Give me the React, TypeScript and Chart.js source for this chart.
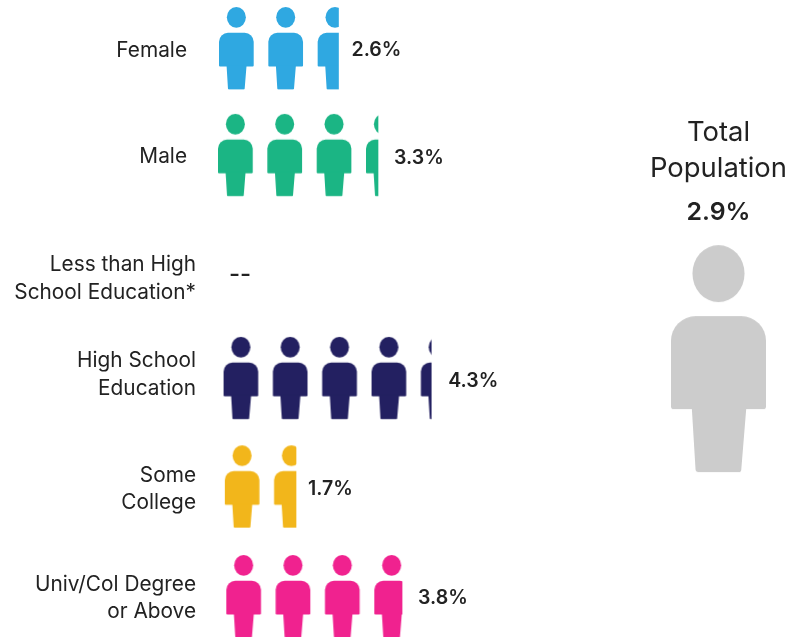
import React, { useEffect, useRef } from "react";
import { Chart, registerables, LinearScale } from "chart.js";

const categories: string[][] = [
  ["Female"],
  ["Male"],
  ["Less than High", "School Education*"],
  ["High School", "Education"],
  ["Some", "College"],
  ["Univ/Col Degree", "or Above"],
];
const rateValues: (number | null)[] = [2.6, 3.3, null, 4.3, 1.7, 3.8];
const rateColors = ["#2FA8E1", "#1BB584", "#CCCCCC", "#232061", "#F2B61B", "#F0228F"];
const totalValue = 2.9;
const totalTitle = ["Total", "Population"];
const missingText = "--";

// style / layout tweaks per row (pixels)
const rowShiftX = [0, -1, 5, 4.5, 5.7, 7.3];
const rowShiftY = [-2, -4.4, 0, 0.2, -0.5, 0];
const endShiftX = [0, 1.6, 0, 0, -2.3, 0];
const valueGap = [13, 16, 16, 17, 12, 16];
const valueShiftY = [2, 3, 0, 3, 3, 2];
const labelInset = [9, 9, 0, 0, 0, 0];
const labelShiftY = [0, -3, 10, -3, 2, 2];

const PITCH = 148 / 3;
const ICON_W = 34.7;
const ICON_H = 82.5;
const TEXT = "#222222";
const FONT = "Inter";

class PictogramScale extends LinearScale {
  static id = "pictogram";
  static defaults = LinearScale.defaults;
  getPixelForValue(v: number) {
    const whole = Math.floor(v);
    return this.left + (whole + ((v - whole) * ICON_W) / PITCH) * PITCH;
  }
}
Chart.register(...registerables, PictogramScale as any);

function person(ctx: CanvasRenderingContext2D, x: number, y: number, w: number, h: number, color: string) {
  ctx.fillStyle = color;
  ctx.beginPath();
  ctx.ellipse(x + 0.5 * w, y + 0.1256 * h, 0.274 * w, 0.1256 * h, 0, 0, Math.PI * 2);
  ctx.fill();
  ctx.beginPath();
  ctx.roundRect(x, y + 0.313 * h, w, 0.4095 * h, [0.26 * w, 0.26 * w, 0.03 * w, 0.03 * w]);
  ctx.fill();
  const r = 0.03 * w;
  ctx.beginPath();
  ctx.moveTo(x + 0.218 * w, y + 0.71 * h);
  ctx.lineTo(x + 0.794 * w, y + 0.71 * h);
  ctx.lineTo(x + 0.74 * w, y + h - r);
  ctx.arcTo(x + 0.74 * w, y + h, x + 0.5 * w, y + h, r);
  ctx.arcTo(x + 0.26 * w, y + h, x + 0.218 * w, y + 0.71 * h, r);
  ctx.closePath();
  ctx.fill();
}

function makeTile(color: string) {
  const c = document.createElement("canvas");
  c.width = 148;
  c.height = 100;
  const g = c.getContext("2d")!;
  for (let i = 0; i < 3; i++) person(g, i * PITCH, 0, ICON_W, ICON_H, color);
  return c;
}

export default function App() {
  const ref = useRef<HTMLCanvasElement>(null);
  useEffect(() => {
    document.body.style.margin = "0";
    const canvas = ref.current!;
    const ctx = canvas.getContext("2d")!;
    const patterns = rateColors.map((c) => ctx.createPattern(makeTile(c), "repeat")!);
    const big = document.createElement("canvas");
    big.width = 97;
    big.height = 229;
    person(big.getContext("2d")!, 1, 1, 95, 227, "#CCCCCC");

    const pictoPlugin = {
      id: "picto",
      afterDatasetUpdate(chart: any, args: any) {
        if (args.index !== 0) return;
        args.meta.data.forEach((el: any, i: number) => {
          el.x += rowShiftX[i] + endShiftX[i];
          el.base += rowShiftX[i];
          el.y = chart.scales.y.getPixelForTick(i) + rowShiftY[i];
          if (rateValues[i] !== null) {
            patterns[i].setTransform(new DOMMatrix().translate(el.base, el.y - ICON_H / 2));
          }
        });
      },
      beforeDraw(chart: any) {
        const s = chart.scales.y;
        s.getLabelItems(chart.chartArea).forEach((item: any, i: number) => {
          const t = item.options.translation;
          item.options.translation = [t[0] - labelInset[i], t[1] + labelShiftY[i]];
        });
      },
      afterDatasetsDraw(chart: any) {
        const g = chart.ctx;
        const meta = chart.getDatasetMeta(0);
        const xs = chart.scales.x;
        g.save();
        g.fillStyle = TEXT;
        g.textBaseline = "middle";
        g.textAlign = "left";
        meta.data.forEach((el: any, i: number) => {
          const v = rateValues[i];
          if (v === null) {
            g.font = `500 24px ${FONT}`;
            g.fillText(missingText, xs.getPixelForValue(0) + rowShiftX[i] + 5, chart.scales.y.getPixelForTick(i) + rowShiftY[i] + 6);
          } else {
            g.font = `600 19.5px ${FONT}`;
            g.fillText(`${v.toFixed(1)}%`, el.x + valueGap[i], el.y + valueShiftY[i]);
          }
        });
        const pt = chart.getDatasetMeta(1).data[0];
        g.textAlign = "center";
        g.font = `400 27.4px ${FONT}`;
        g.fillText(totalTitle[0], pt.x, 133);
        g.fillText(totalTitle[1], pt.x, 169);
        g.font = `600 24.8px ${FONT}`;
        g.fillText(`${totalValue.toFixed(1)}%`, pt.x, 213);
        g.restore();
      },
    };

    const chart = new Chart(canvas, {
      type: "bar",
      data: {
        labels: categories as any,
        datasets: [
          {
            type: "bar",
            indexAxis: "y",
            xAxisID: "x",
            yAxisID: "y",
            data: rateValues as any,
            barThickness: ICON_H,
            clip: false,
            borderWidth: 0,
            backgroundColor: (c: any) => patterns[c.dataIndex],
          } as any,
          {
            type: "scatter",
            xAxisID: "xTotal",
            yAxisID: "yTotal",
            data: [{ x: 0, y: totalValue }],
            pointStyle: big,
            pointRadius: 10,
            clip: false,
          } as any,
        ],
      },
      plugins: [pictoPlugin as any],
      options: {
        animation: false,
        responsive: false,
        events: [],
        layout: { autoPadding: false, padding: { top: 47.7, bottom: 40.8, left: 0, right: 0 } },
        plugins: { legend: { display: false }, tooltip: { enabled: false }, title: { display: false } },
        scales: {
          x: { type: "pictogram", axis: "x", display: false, offset: false, min: 0, max: 12 } as any,
          y: {
            type: "category",
            axis: "y",
            offset: false,
            position: "left",
            afterFit: (s: any) => {
              s.width = 219;
            },
            border: { display: false },
            grid: { display: false, drawTicks: false },
            ticks: {
              autoSkip: false,
              padding: 23,
              color: TEXT,
              font: { family: FONT, size: 20.8, weight: "400", lineHeight: 1.31 },
            },
          } as any,
          xTotal: { type: "linear", axis: "x", display: false, offset: false, bounds: "data", min: -0.8717, max: 0.1283 } as any,
          yTotal: { type: "linear", axis: "y", display: false, offset: false, bounds: "data", min: 0, max: 6.664 } as any,
        },
      },
    });
    return () => chart.destroy();
  }, []);
  return (
    <div style={{ position: "absolute", left: 0, top: 0, width: 792, height: 637, background: "#fff" }}>
      <canvas ref={ref} width={792} height={637} style={{ display: "block", width: 792, height: 637 }} />
    </div>
  );
}
